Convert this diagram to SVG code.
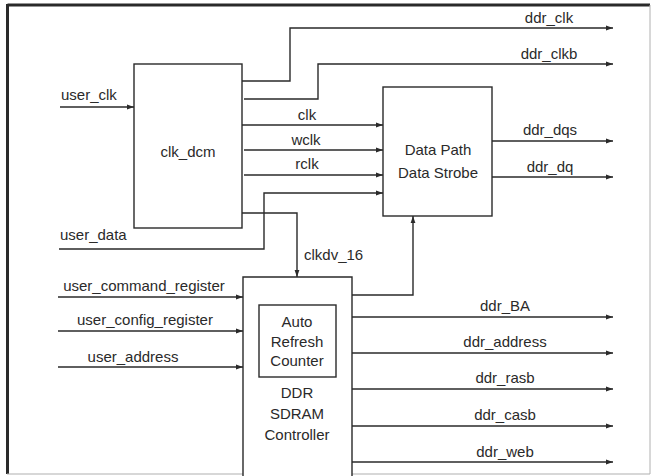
<svg xmlns="http://www.w3.org/2000/svg" width="652" height="476" viewBox="0 0 652 476">
<style>
  text { font-family: "Liberation Sans", Arial, Helvetica, sans-serif; font-size: 15px; fill: #2a2a2a; }
  .c { text-anchor: middle; }
  .box { fill: #ffffff; stroke: #2a2a2a; stroke-width: 1.4; }
  .wire { fill: none; stroke: #2a2a2a; stroke-width: 1.4; }
  .arr { marker-end: url(#ah); }
</style>
<defs>
  <marker id="ah" markerUnits="userSpaceOnUse" markerWidth="8" markerHeight="6" refX="7" refY="3" orient="auto">
    <path d="M0,0.6 L7,3 L0,5.4 z" fill="#2a2a2a"/>
  </marker>
</defs>
<rect x="0" y="0" width="652" height="476" fill="#ffffff"/>
<g id="frame">
  <line x1="7.5" y1="5" x2="650" y2="5" stroke="#2a2a2a" stroke-width="3"/>
  <line x1="7.5" y1="4" x2="7.5" y2="474" stroke="#2a2a2a" stroke-width="3"/>
  <line x1="650" y1="5" x2="650" y2="474" stroke="#b0b0b0" stroke-width="1"/>
  <line x1="7" y1="474" x2="650" y2="474" stroke="#b0b0b0" stroke-width="1.2"/>
</g>
<g id="connectors">
  <path class="wire arr" d="M60,107 H134"/>
  <path class="wire arr" d="M242,81 H290 V28 H613"/>
  <path class="wire arr" d="M244,99 H318 V64 H613"/>
  <path class="wire arr" d="M242,125 H383"/>
  <path class="wire arr" d="M244,150 H383"/>
  <path class="wire arr" d="M244,175 H383"/>
  <path class="wire arr" d="M59,249 H264 V193 H383"/>
  <path class="wire arr" d="M242,213 H297 V277"/>
  <path class="wire" d="M297,277 V305"/>
  <path class="wire arr" d="M352,295 H413 V216"/>
  <path class="wire arr" d="M492,141 H613"/>
  <path class="wire arr" d="M492,177 H613"/>
  <path class="wire arr" d="M58,297 H243"/>
  <path class="wire arr" d="M58,331 H243"/>
  <path class="wire arr" d="M58,367 H243"/>
  <path class="wire arr" d="M352,317 H613"/>
  <path class="wire arr" d="M352,353 H613"/>
  <path class="wire arr" d="M352,389 H613"/>
  <path class="wire arr" d="M352,426 H613"/>
  <path class="wire arr" d="M352,462 H613"/>
</g>
<g id="clk_dcm">
  <rect class="box" x="134" y="64" width="108" height="164"/>
  <text class="c" x="188" y="157">clk_dcm</text>
</g>
<g id="data_path">
  <rect class="box" x="383" y="87" width="109" height="129"/>
  <text class="c" x="438" y="155">Data Path</text>
  <text class="c" x="438" y="178">Data Strobe</text>
</g>
<g id="ddr_controller">
  <path class="box" d="M243,480 V277 H352 V480"/>
  <text class="c" x="297" y="398">DDR</text>
  <text class="c" x="297" y="419">SDRAM</text>
  <text class="c" x="297" y="440">Controller</text>
</g>
<g id="auto_refresh">
  <rect class="box" x="259" y="305" width="77" height="72"/>
  <text class="c" x="297" y="327">Auto</text>
  <text class="c" x="297" y="347">Refresh</text>
  <text class="c" x="297" y="366">Counter</text>
</g>
<g id="labels">
  <text x="61" y="100">user_clk</text>
  <text x="60" y="240">user_data</text>
  <text class="c" x="307" y="120">clk</text>
  <text class="c" x="306" y="145">wclk</text>
  <text class="c" x="307" y="169">rclk</text>
  <text x="304" y="260">clkdv_16</text>
  <text class="c" x="144" y="291">user_command_register</text>
  <text class="c" x="145" y="325">user_config_register</text>
  <text class="c" x="133" y="362">user_address</text>
  <text class="c" x="549" y="23">ddr_clk</text>
  <text class="c" x="549" y="59">ddr_clkb</text>
  <text class="c" x="550" y="135">ddr_dqs</text>
  <text class="c" x="550" y="172">ddr_dq</text>
  <text class="c" x="505" y="311">ddr_BA</text>
  <text class="c" x="505" y="347">ddr_address</text>
  <text class="c" x="505" y="383">ddr_rasb</text>
  <text class="c" x="505" y="420">ddr_casb</text>
  <text class="c" x="505" y="457">ddr_web</text>
</g>
</svg>
